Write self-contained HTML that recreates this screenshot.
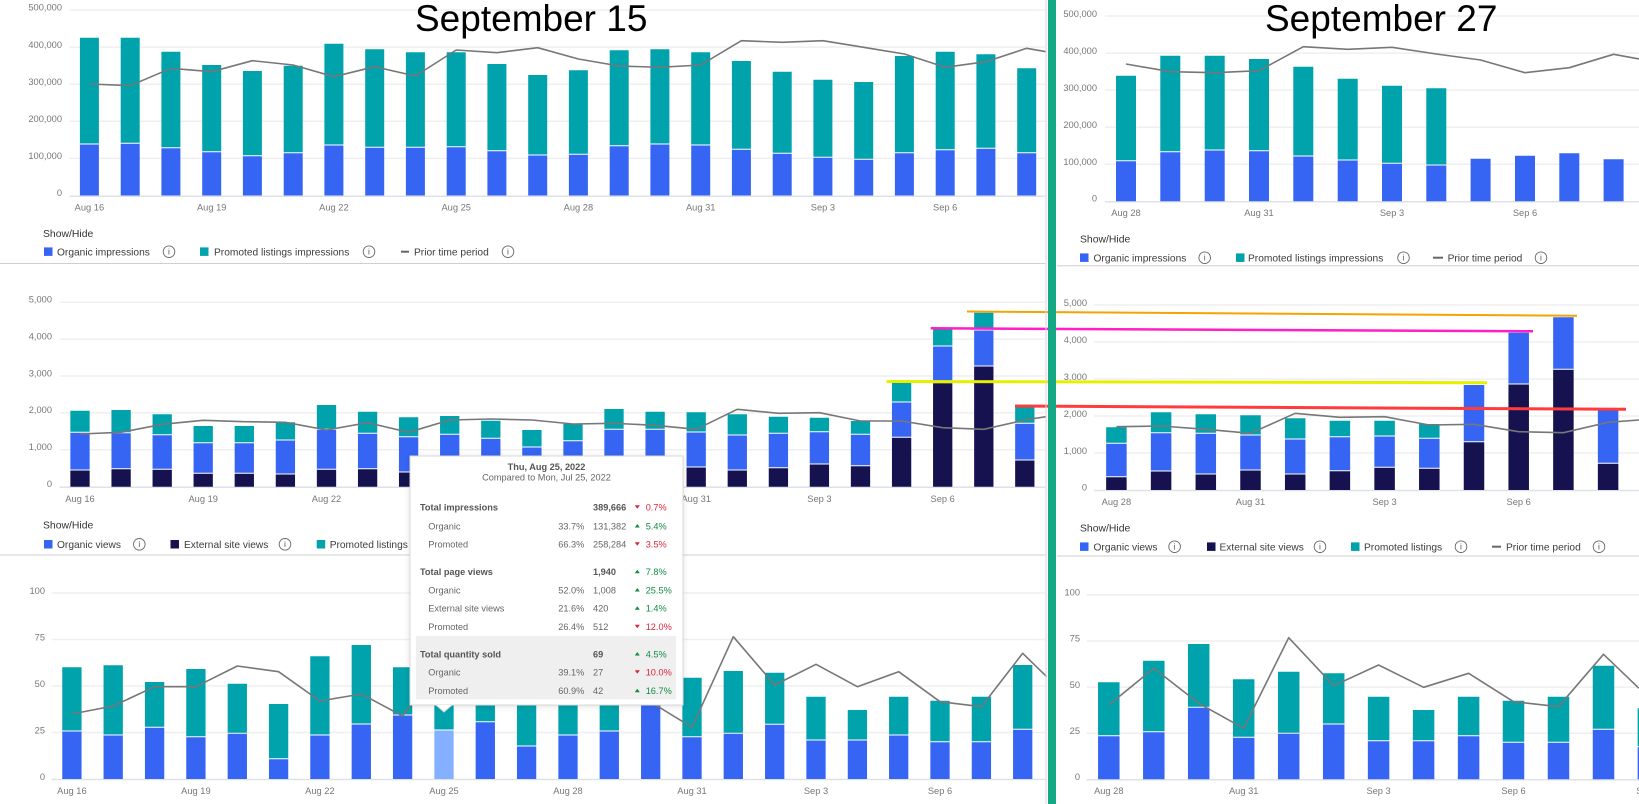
<!DOCTYPE html>
<html><head><meta charset="utf-8"><style>
html,body{margin:0;padding:0;background:#fff}
svg{display:block}
text{font-family:"Liberation Sans",Arial,sans-serif}
.tk{font-size:9.3px;fill:#777}
.lg{font-size:10.2px;fill:#3c3c3c}
.sh{font-size:10.4px;fill:#333}
.ic{fill:none;stroke:#666;stroke-width:0.9}
.ii{font-size:8.5px;fill:#555;text-anchor:middle}
.grid{stroke:#efefef;stroke-width:1.5}
.base{stroke:#dde2ea;stroke-width:1.5}
.pl{fill:none;stroke:#777;stroke-width:1.6;stroke-linejoin:round}
.tt{font-size:9.2px;fill:#666}
.tb{font-size:9.2px;fill:#555;font-weight:bold}
.red{font-size:9.2px;fill:#e0243c}
.grn{font-size:9.2px;fill:#138a45}
</style></head><body>
<svg width="1639" height="804" viewBox="0 0 1639 804" xmlns="http://www.w3.org/2000/svg">
<rect width="1639" height="804" fill="#fff"/>

<!-- ===== LEFT PANEL 1 ===== -->
<g>
<path class="grid" d="M69.5 10H1045M69.5 47.1H1045M69.5 84.2H1045M69.5 121.3H1045M69.5 158.4H1045"/>
<path class="base" d="M69.5 196.2H1045"/>
<g class="tk" text-anchor="end">
<text x="62" y="10.7">500,000</text><text x="62" y="47.8">400,000</text><text x="62" y="84.9">300,000</text><text x="62" y="122">200,000</text><text x="62" y="159.1">100,000</text><text x="62" y="196.2">0</text>
</g>
<path stroke="#00a2ac" stroke-width="19" d="M89.4 37.7V143.5M130.2 37.7V142.8M170.9 51.7V147.2M211.7 65V151.2M252.4 71V155.2M293.2 65.7V152.2M333.9 43.7V144.5M374.7 49.3V146.8M415.4 52.3V146.8M456.2 52.3V146.2M496.9 64V150.2M537.7 75V154.5M578.4 70.3V153.8M619.2 50.3V145.2M659.9 49.3V143.5M700.7 52.3V144.5M741.4 61V148.8M782.2 71.7V152.8M822.9 79.7V156.8M863.7 82V158.8M904.4 56V152.2M945.2 51.7V149.2M985.9 54.3V147.8M1026.7 68.3V152.2"/>
<path stroke="#3665f3" stroke-width="19" d="M89.4 144.5V195.5M130.2 143.8V195.5M170.9 148.2V195.5M211.7 152.2V195.5M252.4 156.2V195.5M293.2 153.2V195.5M333.9 145.5V195.5M374.7 147.8V195.5M415.4 147.8V195.5M456.2 147.2V195.5M496.9 151.2V195.5M537.7 155.5V195.5M578.4 154.8V195.5M619.2 146.2V195.5M659.9 144.5V195.5M700.7 145.5V195.5M741.4 149.8V195.5M782.2 153.8V195.5M822.9 157.8V195.5M863.7 159.8V195.5M904.4 153.2V195.5M945.2 150.2V195.5M985.9 148.8V195.5M1026.7 153.2V195.5"/>
<polyline class="pl" points="89.4,84 130.2,85.7 170.9,68.3 211.7,71.7 252.4,60.7 293.2,65 333.9,76.7 374.7,66.7 415.4,76 456.2,50 496.9,52.7 537.7,47.7 578.4,59 619.2,66 659.9,67.3 700.7,65 741.4,40.7 782.2,42.3 822.9,40.7 863.7,47.3 904.4,54 945.2,67.3 985.9,61.7 1026.7,48.3 1046,51.7"/>
<g class="tk" text-anchor="middle">
<text x="89.4" y="210.4">Aug 16</text><text x="211.7" y="210.4">Aug 19</text><text x="333.9" y="210.4">Aug 22</text><text x="456.2" y="210.4">Aug 25</text><text x="578.4" y="210.4">Aug 28</text><text x="700.7" y="210.4">Aug 31</text><text x="822.9" y="210.4">Sep 3</text><text x="945.2" y="210.4">Sep 6</text>
</g>
<text class="sh" x="43" y="237">Show/Hide</text>
<rect x="44" y="247.4" width="8.5" height="8.5" fill="#3665f3"/>
<text class="lg" x="57" y="255.3">Organic impressions</text>
<circle class="ic" cx="169" cy="251.7" r="5.8"/><text class="ii" x="169" y="254.6">i</text>
<rect x="200" y="247.4" width="8.5" height="8.5" fill="#00a2ac"/>
<text class="lg" x="214" y="255.3">Promoted listings impressions</text>
<circle class="ic" cx="369" cy="251.7" r="5.8"/><text class="ii" x="369" y="254.6">i</text>
<path d="M401 251.7H409" stroke="#666" stroke-width="2"/>
<text class="lg" x="414" y="255.3">Prior time period</text>
<circle class="ic" cx="508" cy="251.7" r="5.8"/><text class="ii" x="508" y="254.6">i</text>
<path d="M0 263.5H1045" stroke="#cfcfcf" stroke-width="1"/>
</g>

<!-- ===== LEFT PANEL 2 ===== -->
<g>
<path class="grid" d="M59.6 302.2H1045M59.6 339.1H1045M59.6 376H1045M59.6 412.9H1045M59.6 449.8H1045"/>
<path class="base" d="M59.6 487.2H1045"/>
<g class="tk" text-anchor="end">
<text x="52" y="302.5">5,000</text><text x="52" y="339.4">4,000</text><text x="52" y="376.3">3,000</text><text x="52" y="413.2">2,000</text><text x="52" y="450.1">1,000</text><text x="52" y="487">0</text>
</g>
<path stroke="#00a2ac" stroke-width="19.3" d="M80 410.7V431.8M121.1 410V432.2M162.2 414.3V434.2M203.2 426V442.2M244.3 426V442.2M285.4 422.3V439.5M326.5 405V428.8M367.6 411.7V432.8M408.6 417.3V436.2M449.7 416V433.8M490.8 420.7V437.8M531.9 430V446.5M573 424V440.2M614 409V428.8M655.1 411.7V428.8M696.2 412.3V431.5M737.3 414.3V434.5M778.4 416.7V432.8M819.4 417.7V431.2M860.5 421V433.8M901.6 382.7V401.5M942.7 329.3V345.5M983.8 312.7V329.5M1024.8 407.3V422.8"/>
<path stroke="#3665f3" stroke-width="19.3" d="M80 432.8V469.5M121.1 433.2V468.2M162.2 435.2V468.8M203.2 443.2V472.8M244.3 443.2V472.8M285.4 440.5V473.5M326.5 429.8V468.8M367.6 433.8V468.2M408.6 437.2V471.5M449.7 434.8V471.5M490.8 438.8V471.5M531.9 447.5V471.5M573 441.2V469.5M614 429.8V467.5M655.1 429.8V467.5M696.2 432.5V466.5M737.3 435.5V469.5M778.4 433.8V467.2M819.4 432.2V463.5M860.5 434.8V465.2M901.6 402.5V436.8M942.7 346.5V382.2M983.8 330.5V365.5M1024.8 423.8V459.5"/>
<path stroke="#15124f" stroke-width="19.3" d="M80 470.5V486.7M121.1 469.2V486.7M162.2 469.8V486.7M203.2 473.8V486.7M244.3 473.8V486.7M285.4 474.5V486.7M326.5 469.8V486.7M367.6 469.2V486.7M408.6 472.5V486.7M449.7 472.5V486.7M490.8 472.5V486.7M531.9 472.5V486.7M573 470.5V486.7M614 468.5V486.7M655.1 468.5V486.7M696.2 467.5V486.7M737.3 470.5V486.7M778.4 468.2V486.7M819.4 464.5V486.7M860.5 466.2V486.7M901.6 437.8V486.7M942.7 383.2V486.7M983.8 366.5V486.7M1024.8 460.5V486.7"/>
<polyline class="pl" points="80,434 121.1,432.3 162.2,424.3 203.2,420.3 244.3,421.7 285.4,422.3 326.5,430 367.6,422.7 408.6,432.3 449.7,420 490.8,419 531.9,420 573,424 614,423.3 655.1,425.3 696.2,429.3 737.3,409.3 778.4,413.3 819.4,412.7 860.5,421 901.6,421 942.7,427.7 983.8,429.3 1024.8,420 1046,416.7"/>
<g class="tk" text-anchor="middle">
<text x="80" y="502.1">Aug 16</text><text x="203.2" y="502.1">Aug 19</text><text x="326.5" y="502.1">Aug 22</text><text x="449.7" y="502.1">Aug 25</text><text x="573" y="502.1">Aug 28</text><text x="696.2" y="502.1">Aug 31</text><text x="819.4" y="502.1">Sep 3</text><text x="942.7" y="502.1">Sep 6</text>
</g>
<text class="sh" x="43" y="528.6">Show/Hide</text>
<rect x="44" y="540" width="8.5" height="8.5" fill="#3665f3"/>
<text class="lg" x="57" y="547.9">Organic views</text>
<circle class="ic" cx="139.3" cy="544.3" r="5.8"/><text class="ii" x="139.3" y="547.2">i</text>
<rect x="170.5" y="540" width="8.5" height="8.5" fill="#15124f"/>
<text class="lg" x="184" y="547.9">External site views</text>
<circle class="ic" cx="285" cy="544.3" r="5.8"/><text class="ii" x="285" y="547.2">i</text>
<rect x="316.7" y="540" width="8.5" height="8.5" fill="#00a2ac"/>
<text class="lg" x="329.7" y="547.9">Promoted listings</text>
<circle class="ic" cx="426" cy="544.3" r="5.8"/>
<path d="M458 544.3H466" stroke="#666" stroke-width="2"/>
<text class="lg" x="471" y="547.9">Prior time period</text>
<path d="M0 555H1045" stroke="#cfcfcf" stroke-width="1"/>
</g>

<!-- ===== LEFT PANEL 3 ===== -->
<g>
<path class="grid" d="M51.6 593H1045M51.6 639.5H1045M51.6 686H1045M51.6 732.5H1045"/>
<path class="base" d="M51.6 779.5H1045"/>
<g class="tk" text-anchor="end">
<text x="45" y="594.2">100</text><text x="45" y="640.7">75</text><text x="45" y="687.2">50</text><text x="45" y="733.7">25</text><text x="45" y="780">0</text>
</g>
<path stroke="#00a2ac" stroke-width="19.3" d="M71.9 667.3V730.5M113.2 665.3V734.5M154.6 682V726.8M195.9 669V736.2M237.3 683.7V732.8M278.6 704V758.2M319.9 656.3V734.5M361.3 645V723.5M402.6 667.3V714.5M444 690V729.5M485.3 690V721.2M526.6 690V745.5M568 690V734.5M609.3 690V730.5M650.7 660V703.5M692 677.7V736.2M733.3 671V732.8M774.7 672.7V723.8M816 696.7V739.5M857.4 710V739.5M898.7 696.7V734.5M940 700.7V741.2M981.4 696.7V741.2M1022.7 665V728.8"/>
<path stroke="#3665f3" stroke-width="19.3" d="M71.9 731.5V779M113.2 735.5V779M154.6 727.8V779M195.9 737.2V779M237.3 733.8V779M278.6 759.2V779M319.9 735.5V779M361.3 724.5V779M402.6 715.5V779M485.3 722.2V779M526.6 746.5V779M568 735.5V779M609.3 731.5V779M650.7 704.5V779M692 737.2V779M733.3 733.8V779M774.7 724.8V779M816 740.5V779M857.4 740.5V779M898.7 735.5V779M940 742.2V779M981.4 742.2V779M1022.7 729.8V779"/>
<path stroke="#85b0ff" stroke-width="19.3" d="M444 730.5V779"/>
<polyline class="pl" points="71.9,714 113.2,706 154.6,686.7 195.9,686.7 237.3,666 278.6,671.7 319.9,701 361.3,694 402.6,716 444,660 485.3,670 526.6,680 568,690 609.3,695 650.7,702 692,727.3 733.3,636.7 774.7,685 816,664.3 857.4,686.7 898.7,671.7 940,701.7 981.4,706.7 1022.7,653.3 1046.7,676.7"/>
<g class="tk" text-anchor="middle">
<text x="71.9" y="794.1">Aug 16</text><text x="195.9" y="794.1">Aug 19</text><text x="319.9" y="794.1">Aug 22</text><text x="444" y="794.1">Aug 25</text><text x="568" y="794.1">Aug 28</text><text x="692" y="794.1">Aug 31</text><text x="816" y="794.1">Sep 3</text><text x="940" y="794.1">Sep 6</text>
</g>
</g>

<!-- ===== RIGHT PANEL 1 ===== -->
<g>
<path class="grid" d="M1105 16H1639M1105 53.1H1639M1105 90.1H1639M1105 127.2H1639M1105 164.2H1639"/>
<path class="base" d="M1105 201.8H1639"/>
<g class="tk" text-anchor="end">
<text x="1097" y="16.8">500,000</text><text x="1097" y="53.9">400,000</text><text x="1097" y="90.9">300,000</text><text x="1097" y="128">200,000</text><text x="1097" y="165">100,000</text><text x="1097" y="201.6">0</text>
</g>
<path stroke="#00a2ac" stroke-width="20" d="M1126 75.7V160.2M1170.3 55.7V151.2M1214.7 55.7V149.5M1259 59V150.2M1303.3 66.7V155.5M1347.7 78.7V159.5M1392 85.7V162.8M1436.3 88.3V164.5"/>
<path stroke="#3665f3" stroke-width="20" d="M1126 161.2V201.3M1170.3 152.2V201.3M1214.7 150.5V201.3M1259 151.2V201.3M1303.3 156.5V201.3M1347.7 160.5V201.3M1392 163.8V201.3M1436.3 165.5V201.3M1480.6 158.7V201.3M1525 155.7V201.3M1569.3 153.3V201.3M1613.6 159.3V201.3"/>
<polyline class="pl" points="1126,64 1170.3,71.7 1214.7,72.7 1259,70.7 1303.3,46.7 1347.7,49.3 1392,47.3 1436.3,54 1480.6,60 1525,72.7 1569.3,67.7 1613.6,54.3 1639,59"/>
<g class="tk" text-anchor="middle">
<text x="1126" y="216.1">Aug 28</text><text x="1259" y="216.1">Aug 31</text><text x="1392" y="216.1">Sep 3</text><text x="1525" y="216.1">Sep 6</text>
</g>
<text class="sh" x="1080" y="242.3">Show/Hide</text>
<rect x="1080" y="253.4" width="8.5" height="8.5" fill="#3665f3"/>
<text class="lg" x="1093.5" y="261.3">Organic impressions</text>
<circle class="ic" cx="1204.7" cy="257.7" r="5.8"/><text class="ii" x="1204.7" y="260.6">i</text>
<rect x="1236" y="253.4" width="8.5" height="8.5" fill="#00a2ac"/>
<text class="lg" x="1248" y="261.3">Promoted listings impressions</text>
<circle class="ic" cx="1403.5" cy="257.7" r="5.8"/><text class="ii" x="1403.5" y="260.6">i</text>
<path d="M1433 257.7H1443" stroke="#666" stroke-width="2"/>
<text class="lg" x="1447.6" y="261.3">Prior time period</text>
<circle class="ic" cx="1541" cy="257.7" r="5.8"/><text class="ii" x="1541" y="260.6">i</text>
<path d="M1057 265.7H1639" stroke="#cfcfcf" stroke-width="1"/>
</g>

<!-- ===== RIGHT PANEL 2 ===== -->
<g>
<path class="grid" d="M1094 305H1639M1094 342H1639M1094 379H1639M1094 416H1639M1094 453H1639"/>
<path class="base" d="M1094 490.5H1639"/>
<g class="tk" text-anchor="end">
<text x="1087" y="306">5,000</text><text x="1087" y="343">4,000</text><text x="1087" y="380">3,000</text><text x="1087" y="417">2,000</text><text x="1087" y="454">1,000</text><text x="1087" y="490.5">0</text>
</g>
<path stroke="#00a2ac" stroke-width="20.5" d="M1116.4 427.3V442.8M1161.1 412.3V432.2M1205.8 414.3V432.8M1250.5 415.3V434.5M1295.2 418.3V438.5M1339.9 420.7V436.2M1384.6 420.7V435.5M1429.3 424V437.8"/>
<path stroke="#3665f3" stroke-width="20.5" d="M1116.4 443.8V476.2M1161.1 433.2V470.5M1205.8 433.8V473.5M1250.5 435.5V469.5M1295.2 439.5V473.5M1339.9 437.2V470.2M1384.6 436.5V466.8M1429.3 438.8V467.8M1474 385V441.2M1518.7 332.7V383.5M1563.4 317.3V368.8M1608.1 410V462.8"/>
<path stroke="#15124f" stroke-width="20.5" d="M1116.4 477.2V490M1161.1 471.5V490M1205.8 474.5V490M1250.5 470.5V490M1295.2 474.5V490M1339.9 471.2V490M1384.6 467.8V490M1429.3 468.8V490M1474 442.2V490M1518.7 384.5V490M1563.4 369.8V490M1608.1 463.8V490"/>
<polyline class="pl" points="1116.4,426.7 1161.1,426 1205.8,429.3 1250.5,433.3 1295.2,413.3 1339.9,417.3 1384.6,416.7 1429.3,425 1474,424.3 1518.7,431.7 1563.4,432.7 1608.1,422.3 1639,420"/>
<g class="tk" text-anchor="middle">
<text x="1116.4" y="505.1">Aug 28</text><text x="1250.5" y="505.1">Aug 31</text><text x="1384.6" y="505.1">Sep 3</text><text x="1518.7" y="505.1">Sep 6</text>
</g>
<text class="sh" x="1080" y="531.3">Show/Hide</text>
<rect x="1080" y="542.4" width="8.5" height="8.5" fill="#3665f3"/>
<text class="lg" x="1093.5" y="550.3">Organic views</text>
<circle class="ic" cx="1174.6" cy="546.7" r="5.8"/><text class="ii" x="1174.6" y="549.6">i</text>
<rect x="1207" y="542.4" width="8.5" height="8.5" fill="#15124f"/>
<text class="lg" x="1219.5" y="550.3">External site views</text>
<circle class="ic" cx="1320" cy="546.7" r="5.8"/><text class="ii" x="1320" y="549.6">i</text>
<rect x="1351" y="542.4" width="8.5" height="8.5" fill="#00a2ac"/>
<text class="lg" x="1364" y="550.3">Promoted listings</text>
<circle class="ic" cx="1461" cy="546.7" r="5.8"/><text class="ii" x="1461" y="549.6">i</text>
<path d="M1492 546.7H1501" stroke="#666" stroke-width="2"/>
<text class="lg" x="1506" y="550.3">Prior time period</text>
<circle class="ic" cx="1599" cy="546.7" r="5.8"/><text class="ii" x="1599" y="549.6">i</text>
<path d="M1057 556H1639" stroke="#cfcfcf" stroke-width="1"/>
</g>

<!-- ===== RIGHT PANEL 3 ===== -->
<g>
<path class="grid" d="M1086.6 594.9H1639M1086.6 641H1639M1086.6 687.1H1639M1086.6 733.2H1639"/>
<path class="base" d="M1086.6 779.8H1639"/>
<g class="tk" text-anchor="end">
<text x="1080" y="595.6">100</text><text x="1080" y="641.7">75</text><text x="1080" y="687.8">50</text><text x="1080" y="733.9">25</text><text x="1080" y="779.8">0</text>
</g>
<path stroke="#00a2ac" stroke-width="21.5" d="M1108.8 682.3V735.2M1153.8 660.7V731.2M1198.7 644V706.8M1243.7 679.3V736.8M1288.7 671.7V732.8M1333.7 673.3V723.5M1378.6 696.7V740.2M1423.6 710V740.2M1468.6 696.7V735.2M1513.5 700.7V741.8M1558.5 696.7V741.8M1603.5 665.7V728.8M1648.4 708.3V746.2"/>
<path stroke="#3665f3" stroke-width="21.5" d="M1108.8 736.2V779.3M1153.8 732.2V779.3M1198.7 707.8V779.3M1243.7 737.8V779.3M1288.7 733.8V779.3M1333.7 724.5V779.3M1378.6 741.2V779.3M1423.6 741.2V779.3M1468.6 736.2V779.3M1513.5 742.8V779.3M1558.5 742.8V779.3M1603.5 729.8V779.3M1648.4 747.2V779.3"/>
<polyline class="pl" points="1108.8,705 1153.8,668.3 1198.7,703.3 1243.7,728.3 1288.7,637.7 1333.7,685.7 1378.6,665 1423.6,687.3 1468.6,673.3 1513.5,701.7 1558.5,706.7 1603.5,654.3 1639,688.3"/>
<g class="tk" text-anchor="middle">
<text x="1108.8" y="794.1">Aug 28</text><text x="1243.7" y="794.1">Aug 31</text><text x="1378.6" y="794.1">Sep 3</text><text x="1513.5" y="794.1">Sep 6</text><text x="1648.4" y="794.1">Sep 9</text>
</g>
</g>

<!-- ===== TOOLTIP ===== -->
<g>
<rect x="410" y="456" width="273" height="249" fill="#fff" stroke="#d9d9d9" stroke-width="1" style="filter:drop-shadow(0 1px 3px rgba(0,0,0,0.12))"/>
<path d="M436 705L444 712L452 705Z" fill="#fff"/>
<path d="M436 705L444 712L452 705" fill="none" stroke="#d9d9d9" stroke-width="1"/>
<rect x="416" y="636" width="260" height="63.3" fill="#efefef"/>
<text class="tb" x="546.5" y="470" text-anchor="middle">Thu, Aug 25, 2022</text>
<text class="tt" x="546.5" y="480.6" text-anchor="middle" fill="#777">Compared to Mon, Jul 25, 2022</text>

<text class="tb" x="420" y="510.6">Total impressions</text>
<text class="tb" x="593" y="510.6">389,666</text>
<text class="red" x="645.7" y="510.6">0.7%</text>
<text class="tt" x="428.3" y="529.3">Organic</text>
<text class="tt" x="584.3" y="529.3" text-anchor="end">33.7%</text>
<text class="tt" x="593" y="529.3">131,382</text>
<text class="grn" x="645.7" y="529.3">5.4%</text>
<text class="tt" x="428.3" y="547.6">Promoted</text>
<text class="tt" x="584.3" y="547.6" text-anchor="end">66.3%</text>
<text class="tt" x="593" y="547.6">258,284</text>
<text class="red" x="645.7" y="547.6">3.5%</text>

<text class="tb" x="420" y="575">Total page views</text>
<text class="tb" x="593" y="575">1,940</text>
<text class="grn" x="645.7" y="575">7.8%</text>
<text class="tt" x="428.3" y="593.3">Organic</text>
<text class="tt" x="584.3" y="593.3" text-anchor="end">52.0%</text>
<text class="tt" x="593" y="593.3">1,008</text>
<text class="grn" x="645.7" y="593.3">25.5%</text>
<text class="tt" x="428.3" y="611.6">External site views</text>
<text class="tt" x="584.3" y="611.6" text-anchor="end">21.6%</text>
<text class="tt" x="593" y="611.6">420</text>
<text class="grn" x="645.7" y="611.6">1.4%</text>
<text class="tt" x="428.3" y="630">Promoted</text>
<text class="tt" x="584.3" y="630" text-anchor="end">26.4%</text>
<text class="tt" x="593" y="630">512</text>
<text class="red" x="645.7" y="630">12.0%</text>

<text class="tb" x="420" y="657.3">Total quantity sold</text>
<text class="tb" x="593" y="657.3">69</text>
<text class="grn" x="645.7" y="657.3">4.5%</text>
<text class="tt" x="428.3" y="675.6">Organic</text>
<text class="tt" x="584.3" y="675.6" text-anchor="end">39.1%</text>
<text class="tt" x="593" y="675.6">27</text>
<text class="red" x="645.7" y="675.6">10.0%</text>
<text class="tt" x="428.3" y="694">Promoted</text>
<text class="tt" x="584.3" y="694" text-anchor="end">60.9%</text>
<text class="tt" x="593" y="694">42</text>
<text class="grn" x="645.7" y="694">16.7%</text>

<!-- arrows -->
<g fill="#e0243c">
<path d="M634.8 505.3H639.8L637.3 508.8Z"/>
<path d="M634.8 542.3H639.8L637.3 545.8Z"/>
<path d="M634.8 624.7H639.8L637.3 628.2Z"/>
<path d="M634.8 670.3H639.8L637.3 673.8Z"/>
</g>
<g fill="#138a45">
<path d="M634.8 527.5H639.8L637.3 524Z"/>
<path d="M634.8 573.2H639.8L637.3 569.7Z"/>
<path d="M634.8 591.5H639.8L637.3 588Z"/>
<path d="M634.8 609.8H639.8L637.3 606.3Z"/>
<path d="M634.8 655.5H639.8L637.3 652Z"/>
<path d="M634.8 692.2H639.8L637.3 688.7Z"/>
</g>
</g>

<!-- ===== ANNOTATION LINES ===== -->
<path d="M967 311.5L1577 315.7" stroke="#f5a300" stroke-width="2"/>
<path d="M930.7 328.3L1533 331.3" stroke="#ff1ec8" stroke-width="2.5"/>
<path d="M886.5 381.5L1487 382.7" stroke="#e5f000" stroke-width="3"/>
<path d="M1015 406L1626 409.3" stroke="#ff3b3b" stroke-width="3"/>

<!-- ===== DIVIDER ===== -->
<path d="M1046 0V804" stroke="#d6d6d6" stroke-width="1"/>
<rect x="1048" y="0" width="8" height="804" fill="#14a884"/>

<!-- ===== TITLES ===== -->
<text x="415" y="31" font-size="37" fill="#000">September 15</text>
<text x="1265" y="31" font-size="37" fill="#000">September 27</text>
</svg>
</body></html>
